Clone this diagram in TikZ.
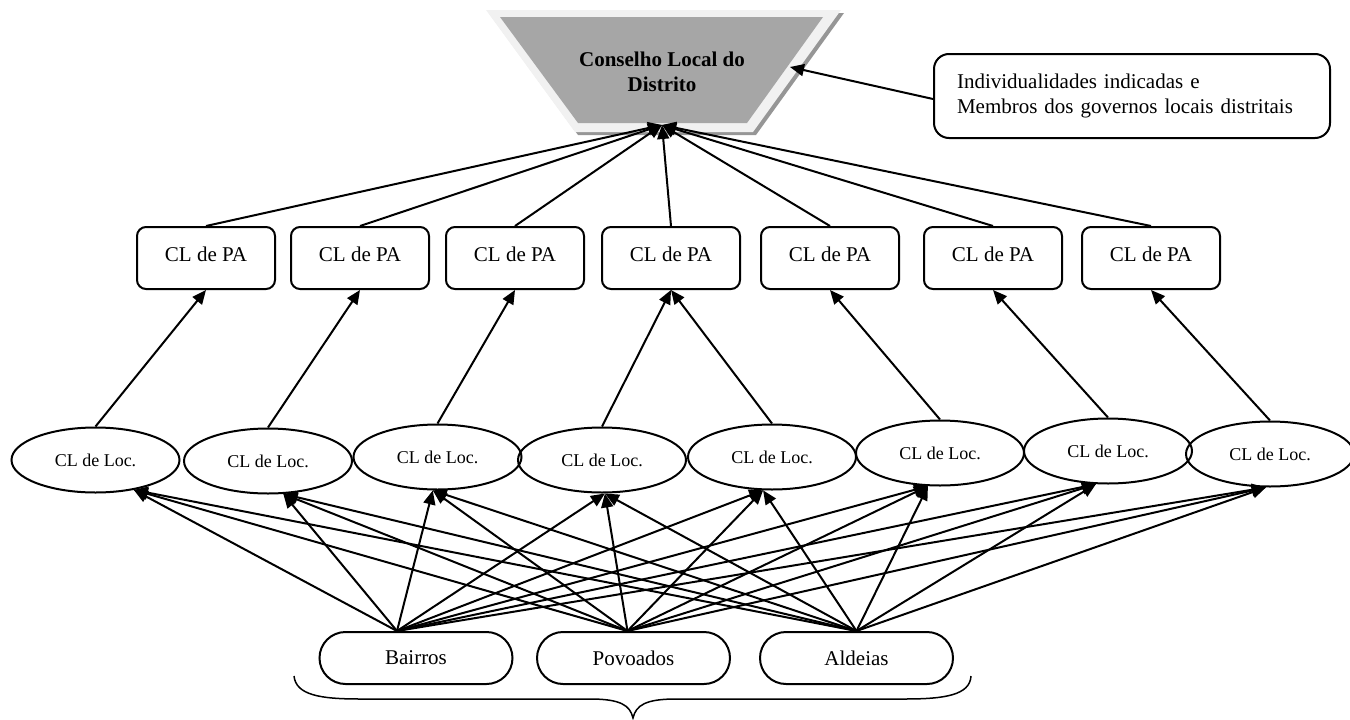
\documentclass[tikz,border=0pt]{standalone}
\usepackage{fontspec}
\setmainfont{Liberation Serif}
\usetikzlibrary{arrows.meta,shapes.geometric}
\definecolor{cldcinza}{RGB}{166,166,166}
\definecolor{cldclaro}{RGB}{241,241,241}
\definecolor{cldsombra}{RGB}{150,150,150}

\begin{document}
\begin{tikzpicture}[x=1pt, y=-1pt, line width=2pt,
    >={Triangle[length=14pt,width=12pt]},
    texto/.style={font=\fontsize{21}{25}\selectfont},
    pa/.style={texto, draw, rounded corners=9pt, minimum width=138pt,
               minimum height=62pt, text depth=8pt, inner sep=0pt},
    loc/.style={draw, ellipse, minimum width=168pt, minimum height=65pt,
                inner sep=0pt, font=\fontsize{18}{21}\selectfont},
    base/.style={texto, draw, rounded corners=26pt, minimum width=193pt,
                 minimum height=52pt, inner sep=0pt}]

  \useasboundingbox (0,0) rectangle (1350,720);

  % Conselho Local do Distrito : trapézio com relevo.
  \fill[cldsombra] (489,13) -- (844,13) -- (756,135) -- (578,135) -- cycle;
  \fill[cldclaro] (486,10) -- (841,10) -- (753,132) -- (575,132) -- cycle;
  \fill[cldcinza] (500,17) -- (823,17) -- (747,123) -- (578,123) -- cycle;
  \node[font=\fontsize{21}{25}\selectfont\bfseries, align=center] (cld) at (662,72)
       {Conselho Local do\\Distrito};
  \coordinate (cldbase) at (662,125);
  \coordinate (cldlado) at (790,67);

  % Caixa lateral.
  \node[texto, draw, rounded corners=15pt, text width=350pt, inner xsep=23pt,
        inner ysep=0pt, minimum height=84pt, align=left] (info) at (1132,96)
       {Individualidades indicadas e\\Membros dos governos locais distritais};
  \draw[->] ([yshift=-3pt]info.west) -- (cldlado);

  % Conselhos locais de posto administrativo.
  \foreach \i/\x in {1/206,2/360,3/515,4/671,5/830,6/993,7/1151}
    \node[pa] (pa\i) at (\x,258) {CL de PA};

  % Conselhos locais de localidade.
  \foreach \i/\x/\y in {1/95.5/460,2/268/461,3/437.5/457,4/602/460,
                        5/772/457,6/940/453,7/1108/451,8/1270/454}
    \node[loc] (loc\i) at (\x,\y) {CL de Loc.};

  % Bairros, povoados e aldeias.
  \node[base] (bai) at (416,658) {Bairros};
  \node[base] (pov) at (633.5,658) {Povoados};
  \node[base] (ald) at (856.5,658) {Aldeias};
  \coordinate (baitopo) at ([xshift=-19pt]bai.north);
  \coordinate (povtopo) at ([xshift=-6pt]pov.north);
  \coordinate (aldtopo) at (ald.north);

  % Setas.
  \foreach \p in {1,...,7}
    \draw[->] (pa\p.north) -- (cldbase);
  \foreach \l/\p in {1/1,2/2,3/3,4/4,5/4,6/5,7/6,8/7}
    \draw[->] (loc\l.north) -- (pa\p.south);
  \foreach \i/\a in {1/-38,2/-65,3/-98,4/-85,5/-105,6/-110,7/-110,8/-97}
    \foreach \b in {baitopo,povtopo,aldtopo}
      \draw[->] (\b) -- (loc\i.\a);

  % Chaveta.
  \draw[line width=1.5pt] (294,676) .. controls (296,695) and (320,699) .. (360,699)
       -- (590,699) .. controls (620,699) and (630,705) .. (633,718)
       .. controls (636,705) and (646,699) .. (676,699)
       -- (905,699) .. controls (945,699) and (970,695) .. (971,676);

\end{tikzpicture}
\end{document}
